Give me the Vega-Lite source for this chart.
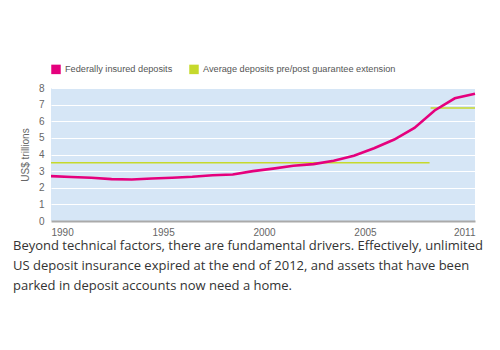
{
  "$schema": "https://vega.github.io/schema/vega-lite/v6.json",
  "autosize": "none",
  "width": 424,
  "height": 133,
  "padding": {"left": 51, "top": 88, "right": 25, "bottom": 129},
  "background": "white",
  "view": {"fill": "#d6e6f6", "stroke": null},
  "config": {
    "font": "Liberation Sans",
    "axis": {"labelColor": "#666", "labelFontSize": 10, "titleColor": "#666", "titleFontWeight": "normal", "titleFontSize": 10},
    "legend": {"labelColor": "#555", "labelFontSize": 9.2}
  },
  "title": {
    "text": ["Beyond technical factors, there are fundamental drivers. Effectively, unlimited", "US deposit insurance expired at the end of 2012, and assets that have been", "parked in deposit accounts now need a home."],
    "orient": "bottom",
    "anchor": "start",
    "frame": "group",
    "dx": -38,
    "offset": 3,
    "fontSize": 13,
    "fontWeight": "normal",
    "color": "#333",
    "lineHeight": 20,
    "font": "Open Sans"
  },
  "encoding": {
    "x": {
      "field": "year", "type": "quantitative",
      "scale": {"domain": [1990, 2011], "nice": false, "zero": false},
      "axis": {
        "title": null, "grid": false, "ticks": false,
        "values": [1990, 1995, 2000, 2005, 2011],
        "format": "d",
        "labelAlign": {"expr": "datum.value == 2011 ? 'right' : 'left'"},
        "labelPadding": 6, "labelOverlap": false,
        "domainColor": "#aaaaaa", "domainWidth": 2
      }
    },
    "y": {
      "field": "value", "type": "quantitative",
      "scale": {"domain": [0, 8], "nice": false},
      "axis": {
        "title": "US$ trillions", "titlePadding": 8,
        "values": [0, 1, 2, 3, 4, 5, 6, 7, 8],
        "grid": true, "gridColor": "#ffffff", "gridWidth": 1, "gridOpacity": 1,
        "ticks": false, "domain": false, "labelPadding": 7, "labelOverlap": false
      }
    },
    "color": {
      "field": "series", "type": "nominal",
      "scale": {
        "domain": ["Federally insured deposits", "Average deposits pre/post guarantee extension"],
        "range": ["#e5007d", "#c6d92c"]
      },
      "legend": {
        "title": null, "orient": "none", "direction": "horizontal",
        "legendX": 0, "legendY": -24,
        "symbolType": "square", "symbolSize": 90, "symbolStrokeWidth": 0,
        "symbolOpacity": 1,
        "columnPadding": 16, "labelLimit": 400, "labelOffset": 4,
        "encode": {
          "symbols": {"update": {"fill": {"scale": "color", "field": "value"}, "fillOpacity": {"value": 1}}}
        }
      }
    }
  },
  "layer": [
    {
      "data": {"values": [
        {"year": 1990, "value": 3.5, "series": "Average deposits pre/post guarantee extension", "seg": "pre"},
        {"year": 2008.75, "value": 3.5, "series": "Average deposits pre/post guarantee extension", "seg": "pre"},
        {"year": 2008.8, "value": 6.8, "series": "Average deposits pre/post guarantee extension", "seg": "post"},
        {"year": 2011, "value": 6.8, "series": "Average deposits pre/post guarantee extension", "seg": "post"}
      ]},
      "mark": {"type": "line", "strokeWidth": 1.6},
      "encoding": {
        "detail": {"field": "seg"}
      }
    },
    {
      "data": {"values": [
        {"year": 1990, "value": 2.7, "series": "Federally insured deposits"},
        {"year": 1991, "value": 2.65, "series": "Federally insured deposits"},
        {"year": 1992, "value": 2.6, "series": "Federally insured deposits"},
        {"year": 1993, "value": 2.52, "series": "Federally insured deposits"},
        {"year": 1994, "value": 2.5, "series": "Federally insured deposits"},
        {"year": 1995, "value": 2.56, "series": "Federally insured deposits"},
        {"year": 1996, "value": 2.6, "series": "Federally insured deposits"},
        {"year": 1997, "value": 2.66, "series": "Federally insured deposits"},
        {"year": 1998, "value": 2.75, "series": "Federally insured deposits"},
        {"year": 1999, "value": 2.8, "series": "Federally insured deposits"},
        {"year": 2000, "value": 3.0, "series": "Federally insured deposits"},
        {"year": 2001, "value": 3.15, "series": "Federally insured deposits"},
        {"year": 2002, "value": 3.32, "series": "Federally insured deposits"},
        {"year": 2003, "value": 3.42, "series": "Federally insured deposits"},
        {"year": 2004, "value": 3.62, "series": "Federally insured deposits"},
        {"year": 2005, "value": 3.92, "series": "Federally insured deposits"},
        {"year": 2006, "value": 4.38, "series": "Federally insured deposits"},
        {"year": 2007, "value": 4.9, "series": "Federally insured deposits"},
        {"year": 2008, "value": 5.6, "series": "Federally insured deposits"},
        {"year": 2009, "value": 6.65, "series": "Federally insured deposits"},
        {"year": 2010, "value": 7.38, "series": "Federally insured deposits"},
        {"year": 2011, "value": 7.65, "series": "Federally insured deposits"}
      ]},
      "mark": {"type": "line", "strokeWidth": 2.6}
    }
  ]
}
